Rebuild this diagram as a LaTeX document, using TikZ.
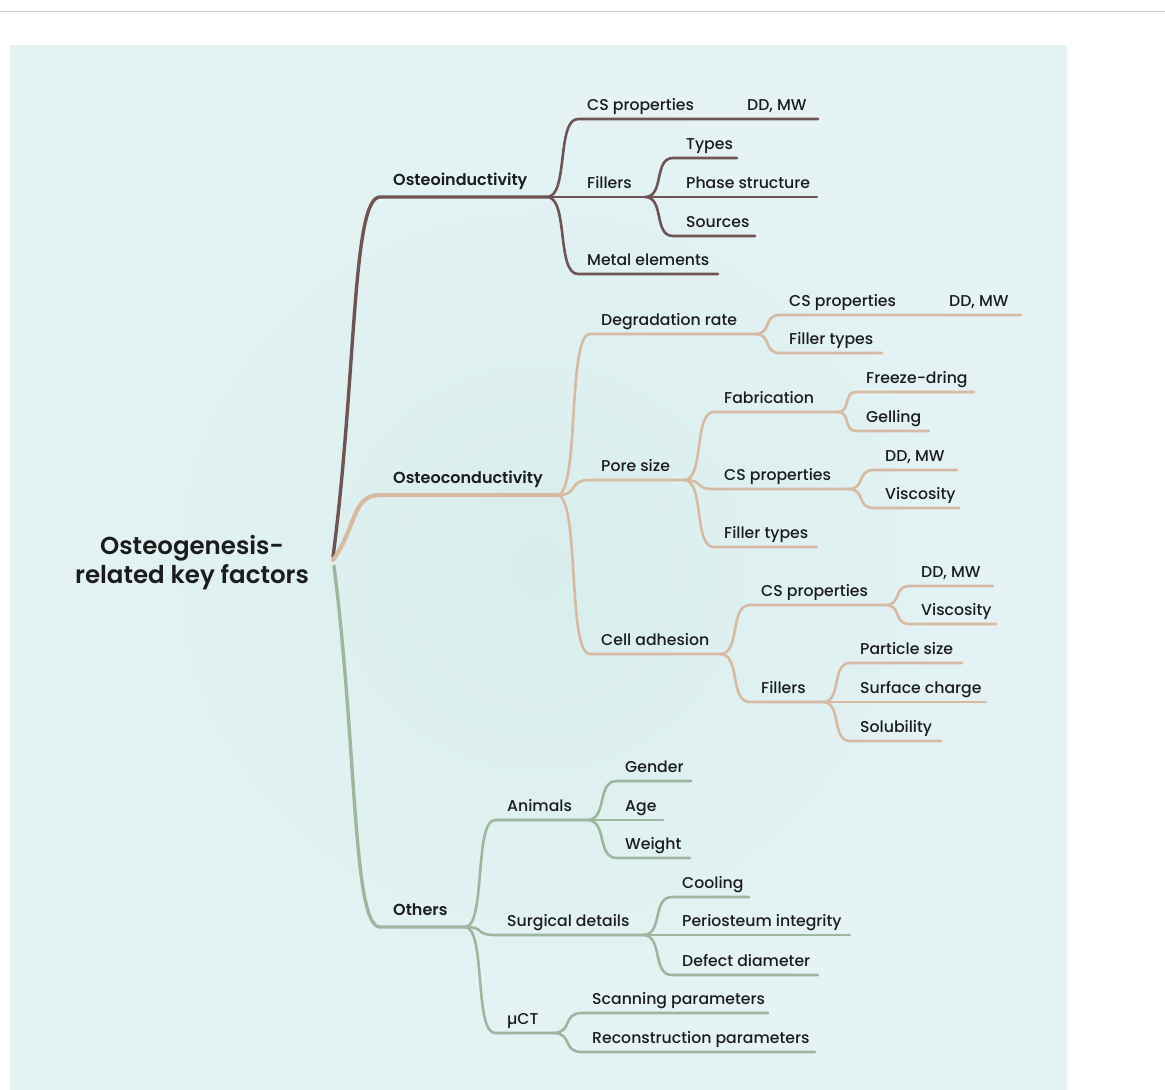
\documentclass[tikz,border=0pt]{standalone}
\usepackage{fontspec}
\IfFontExistsTF{Poppins Medium}{\setmainfont{Poppins Medium}}{\setmainfont{Poppins}}
\IfFontExistsTF{Poppins SemiBold}{\newfontfamily\semifont{Poppins SemiBold}}{\newfontfamily\semifont{Poppins}[UprightFont=*-Bold]}
\usetikzlibrary{calc}

\definecolor{indcolor}{RGB}{110,84,82}
\definecolor{concolor}{RGB}{214,187,162}
\definecolor{othcolor}{RGB}{158,182,160}
\definecolor{bgin}{RGB}{216,238,236}
\definecolor{bgout}{RGB}{230,243,245}
\definecolor{txtcolor}{RGB}{28,28,28}

\begin{document}
\begin{tikzpicture}[x=1pt,y=-1pt,line cap=round,line join=round,
    sb/.style={to path={.. controls ($(\tikztostart)!0.7!(\tikztostart-|\tikztotarget)$) and ($(\tikztotarget)!0.7!(\tikztotarget-|\tikztostart)$) .. (\tikztotarget)}},
    mb/.style={to path={.. controls ($(\tikztostart)!0.5!(\tikztotarget)$) and ($(\tikztotarget)!0.6!(\tikztotarget-|\tikztostart)$) .. (\tikztotarget)}},
    indline/.style={draw=indcolor,line width=2.6},
    conline/.style={draw=concolor,line width=2.6},
    othline/.style={draw=othcolor,line width=2.6},
    lbl/.style={anchor=base west,inner sep=0pt,text=txtcolor,font=\fontsize{15.7}{18}\selectfont},
    topic/.style={lbl,font=\fontsize{16}{19}\semifont}]
    \useasboundingbox (0,0) rectangle (1165,1090);
    \draw[black!20,line width=1] (0,11) -- (1165,11);
    \shade[inner color=bgin,outer color=bgout] (10,45) rectangle (1067,1090);

    % root
    \node[inner sep=0pt,align=center,text=txtcolor,font=\fontsize{24.5}{29}\semifont] (root) at (192,563) {Osteogenesis-\\related key factors};
    \coordinate (hub) at (333,560);
    \coordinate (hubA) at (333,557);
    \coordinate (hubC) at (334,566);

    % first level
    \coordinate (indS) at (380,197); \coordinate (indE) at (547,197);
    \coordinate (conS) at (380,495); \coordinate (conE) at (557,495);
    \coordinate (othS) at (380,927); \coordinate (othE) at (465,927);
    \node[topic] (ind) at (393,185) {Osteoinductivity};
    \node[topic] (con) at (393,483) {Osteoconductivity};
    \node[topic] (oth) at (393,915) {Others};

    % Osteoinductivity
    \coordinate (indcsS) at (578,119); \coordinate (indcsE) at (705,119); \coordinate (indddE) at (818,119);
    \coordinate (indfilS) at (578,197); \coordinate (indfilE) at (645,197);
    \coordinate (typS) at (673,158); \coordinate (typE) at (737,158);
    \coordinate (phaS) at (673,197); \coordinate (phaE) at (817,197);
    \coordinate (souS) at (673,236); \coordinate (souE) at (755,236);
    \coordinate (metS) at (578,274); \coordinate (metE) at (718,274);
    \node[lbl] (indcs) at (587,110) {CS properties};
    \node[lbl] (inddd) at (747,110) {DD, MW};
    \node[lbl] (indfil) at (587,188) {Fillers};
    \node[lbl] (typ) at (686,149) {Types};
    \node[lbl] (pha) at (686,188) {Phase structure};
    \node[lbl] (sou) at (686,227) {Sources};
    \node[lbl] (met) at (587,265) {Metal elements};

    % Osteoconductivity
    \coordinate (degS) at (590,334); \coordinate (degE) at (755,334);
    \coordinate (degcsS) at (780,315); \coordinate (degcsE) at (905,315); \coordinate (degddE) at (1021,315);
    \coordinate (degftS) at (780,353); \coordinate (degftE) at (882,353);
    \coordinate (porS) at (590,480); \coordinate (porE) at (684,480);
    \coordinate (fabS) at (714,412); \coordinate (fabE) at (838,412);
    \coordinate (frzS) at (856,392); \coordinate (frzE) at (974,392);
    \coordinate (gelS) at (856,431); \coordinate (gelE) at (929,431);
    \coordinate (porcsS) at (714,489); \coordinate (porcsE) at (848,489);
    \coordinate (porddS) at (874,470); \coordinate (porddE) at (957,470);
    \coordinate (porvisS) at (874,508); \coordinate (porvisE) at (959,508);
    \coordinate (porftS) at (714,547); \coordinate (porftE) at (817,547);
    \coordinate (celS) at (590,654); \coordinate (celE) at (720,654);
    \coordinate (celcsS) at (750,605); \coordinate (celcsE) at (885,605);
    \coordinate (celddS) at (910,586); \coordinate (celddE) at (993,586);
    \coordinate (celvisS) at (910,624); \coordinate (celvisE) at (996,624);
    \coordinate (celfilS) at (750,702); \coordinate (celfilE) at (823,702);
    \coordinate (parS) at (850,663); \coordinate (parE) at (962,663);
    \coordinate (sfcS) at (850,702); \coordinate (sfcE) at (986,702);
    \coordinate (solS) at (850,741); \coordinate (solE) at (941,741);
    \node[lbl] (deg) at (601,325) {Degradation rate};
    \node[lbl] (degcs) at (789,306) {CS properties};
    \node[lbl] (degdd) at (949,306) {DD, MW};
    \node[lbl] (degft) at (789,344) {Filler types};
    \node[lbl] (por) at (601,471) {Pore size};
    \node[lbl] (fab) at (724,403) {Fabrication};
    \node[lbl] (frz) at (866,383) {Freeze-dring};
    \node[lbl] (gel) at (866,422) {Gelling};
    \node[lbl] (porcs) at (724,480) {CS properties};
    \node[lbl] (pordd) at (885,461) {DD, MW};
    \node[lbl] (porvis) at (885,499) {Viscosity};
    \node[lbl] (porft) at (724,538) {Filler types};
    \node[lbl] (cel) at (601,645) {Cell adhesion};
    \node[lbl] (celcs) at (761,596) {CS properties};
    \node[lbl] (celdd) at (921,577) {DD, MW};
    \node[lbl] (celvis) at (921,615) {Viscosity};
    \node[lbl] (celfil) at (761,693) {Fillers};
    \node[lbl] (par) at (860,654) {Particle size};
    \node[lbl] (sfc) at (860,693) {Surface charge};
    \node[lbl] (sol) at (860,732) {Solubility};

    % Others
    \coordinate (aniS) at (495,820); \coordinate (aniE) at (587,820);
    \coordinate (genS) at (617,781); \coordinate (genE) at (691,781);
    \coordinate (ageS) at (617,820); \coordinate (ageE) at (663,820);
    \coordinate (weiS) at (617,858); \coordinate (weiE) at (690,858);
    \coordinate (sgdS) at (495,935); \coordinate (sgdE) at (643,935);
    \coordinate (cooS) at (672,897); \coordinate (cooE) at (749,897);
    \coordinate (perS) at (672,935); \coordinate (perE) at (850,935);
    \coordinate (defS) at (672,975); \coordinate (defE) at (818,975);
    \coordinate (mctS) at (495,1033); \coordinate (mctE) at (553,1033);
    \coordinate (scaS) at (582,1013); \coordinate (scaE) at (768,1013);
    \coordinate (recS) at (582,1052); \coordinate (recE) at (815,1052);
    \node[lbl] (ani) at (507,811) {Animals};
    \node[lbl] (gen) at (625,772) {Gender};
    \node[lbl] (age) at (625,811) {Age};
    \node[lbl] (wei) at (625,849) {Weight};
    \node[lbl] (sgd) at (507,926) {Surgical details};
    \node[lbl] (coo) at (682,888) {Cooling};
    \node[lbl] (per) at (682,926) {Periosteum integrity};
    \node[lbl] (def) at (682,966) {Defect diameter};
    \node[lbl] (mct) at (507,1024) {µCT};
    \node[lbl] (sca) at (592,1004) {Scanning parameters};
    \node[lbl] (rec) at (592,1043) {Reconstruction parameters};

    % branches
    \draw[othline,line width=3.4] (hubC) to[mb] (othS) -- (othE);
    \draw[indline,line width=3.4] (hubA) to[mb] (indS) -- (indE);
    \draw[conline,line width=4.2] (hub) to[mb] (conS) -- (conE);

    \draw[indline] (indE) to[sb] (indcsS) -- (indcsE) -- (indddE);
    \draw[indline] (indE) to[sb] (indfilS) -- (indfilE);
    \draw[indline] (indfilE) to[sb] (typS) -- (typE);
    \draw[indline] (indfilE) to[sb] (phaS) -- (phaE);
    \draw[indline] (indfilE) to[sb] (souS) -- (souE);
    \draw[indline] (indE) to[sb] (metS) -- (metE);

    \draw[conline] (conE) to[sb] (degS) -- (degE);
    \draw[conline] (degE) to[sb] (degcsS) -- (degcsE) -- (degddE);
    \draw[conline] (degE) to[sb] (degftS) -- (degftE);
    \draw[conline] (conE) to[sb] (porS) -- (porE);
    \draw[conline] (porE) to[sb] (fabS) -- (fabE);
    \draw[conline] (fabE) to[sb] (frzS) -- (frzE);
    \draw[conline] (fabE) to[sb] (gelS) -- (gelE);
    \draw[conline] (porE) to[sb] (porcsS) -- (porcsE);
    \draw[conline] (porcsE) to[sb] (porddS) -- (porddE);
    \draw[conline] (porcsE) to[sb] (porvisS) -- (porvisE);
    \draw[conline] (porE) to[sb] (porftS) -- (porftE);
    \draw[conline] (conE) to[sb] (celS) -- (celE);
    \draw[conline] (celE) to[sb] (celcsS) -- (celcsE);
    \draw[conline] (celcsE) to[sb] (celddS) -- (celddE);
    \draw[conline] (celcsE) to[sb] (celvisS) -- (celvisE);
    \draw[conline] (celE) to[sb] (celfilS) -- (celfilE);
    \draw[conline] (celfilE) to[sb] (parS) -- (parE);
    \draw[conline] (celfilE) to[sb] (sfcS) -- (sfcE);
    \draw[conline] (celfilE) to[sb] (solS) -- (solE);

    \draw[othline] (othE) to[sb] (aniS) -- (aniE);
    \draw[othline] (aniE) to[sb] (genS) -- (genE);
    \draw[othline] (aniE) to[sb] (ageS) -- (ageE);
    \draw[othline] (aniE) to[sb] (weiS) -- (weiE);
    \draw[othline] (othE) to[sb] (sgdS) -- (sgdE);
    \draw[othline] (sgdE) to[sb] (cooS) -- (cooE);
    \draw[othline] (sgdE) to[sb] (perS) -- (perE);
    \draw[othline] (sgdE) to[sb] (defS) -- (defE);
    \draw[othline] (othE) to[sb] (mctS) -- (mctE);
    \draw[othline] (mctE) to[sb] (scaS) -- (scaE);
    \draw[othline] (mctE) to[sb] (recS) -- (recE);
\end{tikzpicture}
\end{document}
